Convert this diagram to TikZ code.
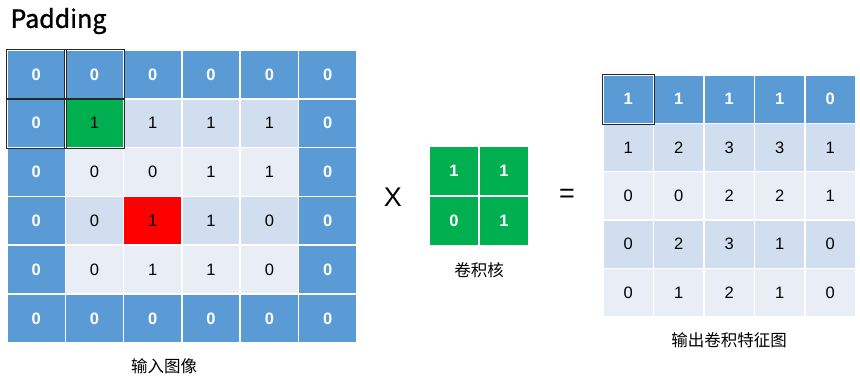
\documentclass[tikz,border=0pt]{standalone}
\usepackage{fontspec}
\setmainfont{Liberation Sans}
\newfontfamily\cjkfont{Noto Sans CJK SC}
\newfontfamily\titlefont[FakeBold=1.2]{Noto Sans CJK SC}
\usetikzlibrary{positioning}
\definecolor{padblue}{RGB}{91,155,213}
\definecolor{rowdark}{RGB}{208,222,239}
\definecolor{rowlight}{RGB}{233,237,246}
\definecolor{kergreen}{RGB}{0,176,80}
\definecolor{hotred}{RGB}{255,0,0}
\definecolor{edgegray}{RGB}{40,40,40}

\begin{document}
\begin{tikzpicture}[x=1pt, y=-1pt,
  cell/.style={draw=white, line width=1.5pt, inner sep=0pt, font=\fontsize{16.5}{18}\selectfont},
  pad/.style={cell, fill=padblue, text=white, font=\fontsize{16.5}{18}\selectfont\bfseries},
  hd/.style={pad},
  dk/.style={cell, fill=rowdark},
  lt/.style={cell, fill=rowlight},
  grn/.style={cell, fill=kergreen},
  hot/.style={cell, fill=hotred},
  ker/.style={pad, fill=kergreen, minimum width=50pt, minimum height=50pt},
  hilite/.style={draw=edgegray, line width=0.9pt},
  capt/.style={font=\cjkfont\fontsize{16.5}{18}\selectfont},
  big/.style={font=\fontsize{27}{30}\selectfont}
]
  \useasboundingbox (0,0) rectangle (860,381);
  \node[anchor=west, font=\titlefont\fontsize{25}{30}\selectfont] (title) at (7,21) {Padding};

  % input image with padding
  \foreach \r/\row in {0/{pad/0,pad/0,pad/0,pad/0,pad/0,pad/0},
                       1/{pad/0,grn/1,dk/1,dk/1,dk/1,pad/0},
                       2/{pad/0,lt/0,lt/0,lt/1,lt/1,pad/0},
                       3/{pad/0,dk/0,hot/1,dk/1,dk/0,pad/0},
                       4/{pad/0,lt/0,lt/1,lt/1,lt/0,pad/0},
                       5/{pad/0,pad/0,pad/0,pad/0,pad/0,pad/0}}
    \foreach \s/\v [count=\c from 0] in \row
      \node[\s, minimum width=58.3pt, minimum height=48.8pt] (in-\r-\c) at ({36.15+58.3*\c},{74.4+48.8*\r}) {\v};
  \foreach \n in {in-0-0,in-0-1,in-1-0,in-1-1}
    \draw[hilite] (\n.north west) rectangle (\n.south east);
  \node[capt] (inlabel) at (164,366) {输入图像};

  \node[big] (times) at (393,197) {X};

  % kernel
  \node[ker] (k-0-0) at (454,171) {1};
  \node[ker] (k-0-1) at (504,171) {1};
  \node[ker] (k-1-0) at (454,221) {0};
  \node[ker] (k-1-1) at (504,221) {1};
  \node[capt] (klabel) at (479,270) {卷积核};

  \node[big] (equals) at (567,196) {=};

  % output feature map
  \foreach \r/\row in {0/{hd/1,hd/1,hd/1,hd/1,hd/0},
                       1/{dk/1,dk/2,dk/3,dk/3,dk/1},
                       2/{lt/0,lt/0,lt/2,lt/2,lt/1},
                       3/{dk/0,dk/2,dk/3,dk/1,dk/0},
                       4/{lt/0,lt/1,lt/2,lt/1,lt/0}}
    \foreach \s/\v [count=\c from 0] in \row
      \node[\s, minimum width=50.5pt, minimum height=48.3pt] (out-\r-\c) at ({628.2+50.5*\c},{99.2+48.3*\r}) {\v};
  \draw[hilite] (out-0-0.north west) rectangle (out-0-0.south east);
  \node[capt] (outlabel) at (729,340) {输出卷积特征图};
\end{tikzpicture}
\end{document}
